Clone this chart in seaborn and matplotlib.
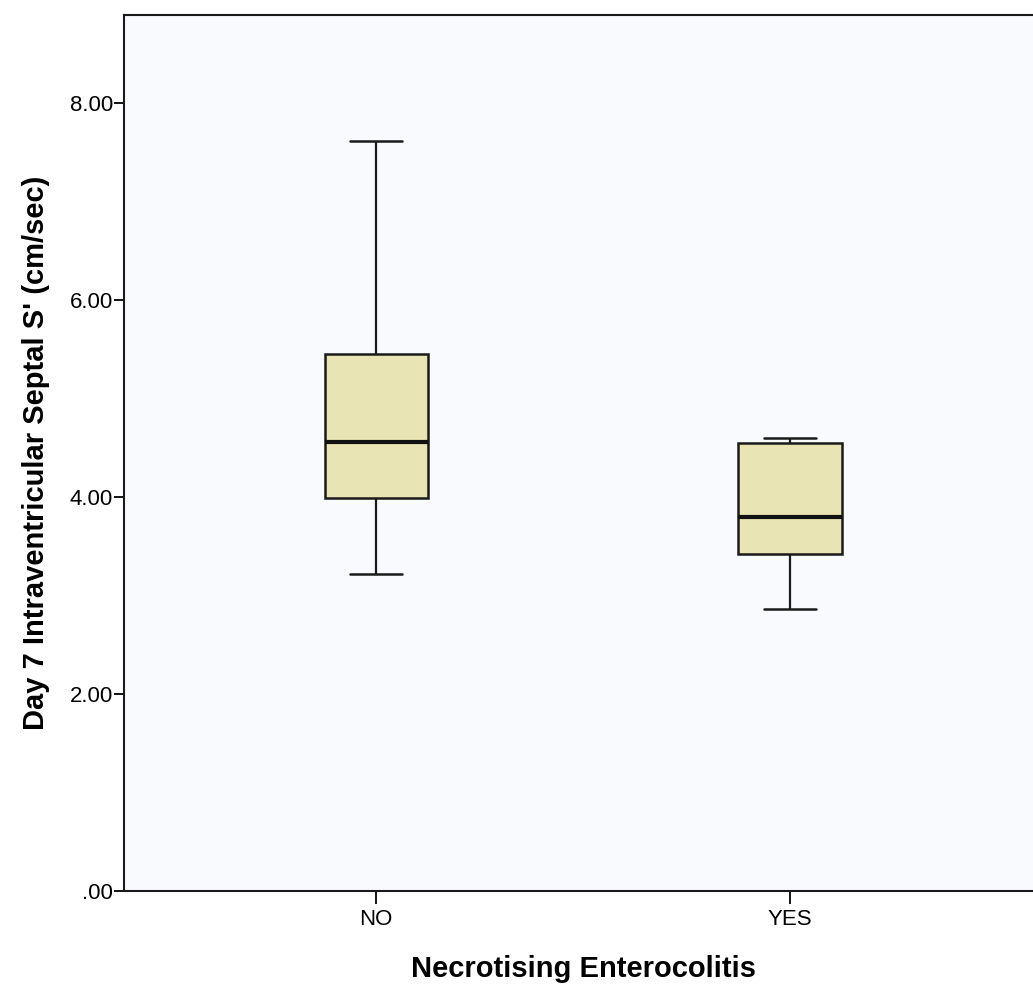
import matplotlib
matplotlib.use("Agg")
import matplotlib.pyplot as plt
import pandas as pd
import seaborn as sns

# Five-number summaries (min, Q1, median, Q3, max)
groups = ["NO", "YES"]
no_values = [3.22, 3.99, 4.56, 5.45, 7.61]
yes_values = [2.86, 3.42, 3.80, 4.55, 4.60]
y_ticks = [0, 2, 4, 6, 8]
y_tick_labels = [".00", "2.00", "4.00", "6.00", "8.00"]

df = pd.DataFrame({
    "group": [groups[0]] * len(no_values) + [groups[1]] * len(yes_values),
    "value": no_values + yes_values,
})

sns.set_style("ticks")
plt.rcParams["font.family"] = ["Liberation Sans", "DejaVu Sans"]
plt.rcParams["text.color"] = "black"
plt.rcParams["axes.labelcolor"] = "black"
plt.rcParams["xtick.color"] = "black"
plt.rcParams["ytick.color"] = "black"

fig = plt.figure(figsize=(10.33, 9.88), dpi=100)
ax = fig.add_axes([0.120, 0.098, 0.889, 0.887])
ax.set_facecolor("#F9FAFD")

sns.boxplot(
    data=df, x="group", y="value", order=groups,
    width=0.25, whis=(0, 100), color="#E8E4B4", saturation=1,
    linecolor="#1a1a1a", linewidth=1.8,
    medianprops={"linewidth": 3.0, "color": "#111111"},
    whiskerprops={"linewidth": 1.6},
    capprops={"linewidth": 1.8},
    ax=ax,
)

ax.set_xlim(-0.61, 1.61)
ax.set_ylim(0, 8.89)
ax.set_yticks(y_ticks)
ax.set_yticklabels(y_tick_labels)

ax.tick_params(axis="y", length=7, width=1.3, pad=1, labelsize=16)
ax.tick_params(axis="x", length=9, width=1.3, pad=4, labelsize=16)

for sSide in ["left", "bottom", "top", "right"]:
    ax.spines[sSide].set_visible(True)
    ax.spines[sSide].set_linewidth(1.5)
    ax.spines[sSide].set_color("#1a1a1a")

ax.set_xlabel("Necrotising Enterocolitis", fontsize=21, fontweight="bold", labelpad=18)
ax.set_ylabel("Day 7 Intraventricular Septal S' (cm/sec)", fontsize=21,
              fontweight="bold", labelpad=14)

fig.savefig("out.png", dpi=100, facecolor="white")
